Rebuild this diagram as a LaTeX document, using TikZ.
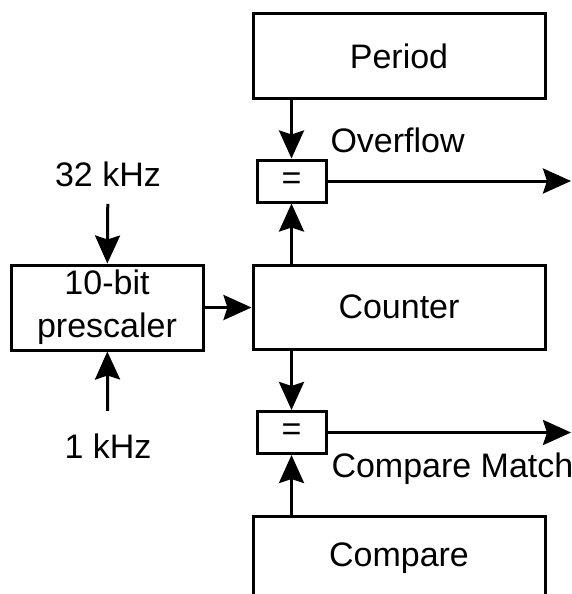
\documentclass[tikz,border=0pt]{standalone}
\usepackage{fontspec}
\setmainfont{Liberation Sans}
\usetikzlibrary{arrows.meta}

\begin{document}
\begin{tikzpicture}[
  x=1pt, y=-1pt,
  >={Stealth[length=28pt,width=25pt,inset=4pt]},
  line width=3pt,
  font=\fontsize{34}{43}\selectfont,
  blk/.style={draw, minimum width=292pt, minimum height=84pt, inner sep=0pt},
  eqbox/.style={draw, minimum width=69pt, minimum height=42pt, inner sep=0pt},
  lbl/.style={inner sep=0pt}
]
\clip (0,0) rectangle (572,594);

% blocks
\node[blk] (period)  at (399,56)  {Period};
\node[blk] (counter) at (399,307) {Counter};
\node[blk] (compare) at (399,558) {Compare};
\node[blk, minimum width=192pt, minimum height=85pt, align=center] (pre) at (107,307.5) {10-bit\\prescaler};

% comparators
\node[eqbox] (eqtop) at (291.5,181) {=};
\node[eqbox] (eqbot) at (291.5,432.5) {=};

% labels
\node[lbl, anchor=base] (f32) at (108,186) {32 kHz};
\node[lbl, anchor=base] (f1)  at (108,458) {1 kHz};
\node[lbl, anchor=base west] (ovf) at (329,152) {Overflow};
\node[lbl, anchor=base west] (cmp) at (330,477) {Compare Match};

\coordinate (ovfout) at (571,181);
\coordinate (cmpout) at (571,432.5);

% connections
\draw[->, shorten <=16pt] (f32) -- (pre);
\draw[->, shorten <=21pt] (f1) -- (pre);
\draw[->] (pre.east) -- (pre.east -| counter.west);
\draw[->] (period.south -| eqtop) -- (eqtop);
\draw[->] (counter.north -| eqtop) -- (eqtop);
\draw[->] (counter.south -| eqbot) -- (eqbot);
\draw[->] (compare.north -| eqbot) -- (eqbot);
\draw[->] (eqtop) -- (ovfout);
\draw[->] (eqbot) -- (cmpout);

\end{tikzpicture}
\end{document}
